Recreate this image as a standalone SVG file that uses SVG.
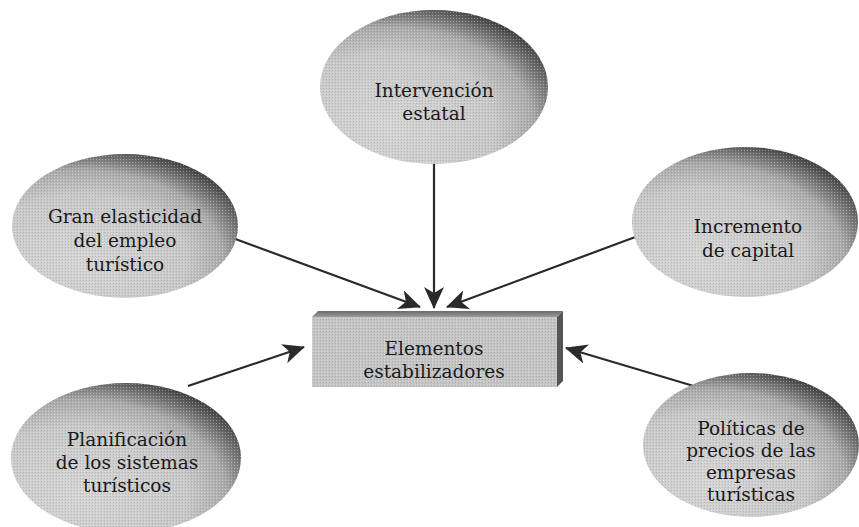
<svg xmlns="http://www.w3.org/2000/svg" width="859" height="527" viewBox="0 0 859 527">
  <style>
    .lbl { font-family: "DejaVu Serif", "Liberation Serif", serif; font-size: 18.5px; fill: #1a1a1a; text-anchor: middle; }
    .bubble { fill: url(#bubbleShade); }
    .grain { fill: url(#dots); }
    .link { stroke: #2a2a2a; stroke-width: 2.2; fill: none; marker-end: url(#head); }
  </style>
  <defs>
    <!-- light toward lower-left, dark rim along the upper-right edge -->
    <radialGradient id="bubbleShade" cx="0.3" cy="0.75" r="0.85" fx="0.3" fy="0.75">
      <stop offset="0" stop-color="#d4d4d4"/>
      <stop offset="0.55" stop-color="#c8c8c8"/>
      <stop offset="0.75" stop-color="#aaaaaa"/>
      <stop offset="0.88" stop-color="#6a6a6a"/>
      <stop offset="1" stop-color="#2e2e2e"/>
    </radialGradient>
    <linearGradient id="topFace" x1="0" y1="0" x2="0" y2="1">
      <stop offset="0" stop-color="#6a6a6a"/>
      <stop offset="1" stop-color="#9a9a9a"/>
    </linearGradient>
    <!-- halftone grain -->
    <pattern id="dots" width="3" height="3" patternUnits="userSpaceOnUse">
      <rect x="0" y="0" width="1" height="1" fill="#ffffff" opacity="0.35"/>
      <rect x="2" y="1" width="1" height="1" fill="#000000" opacity="0.12"/>
    </pattern>
    <marker id="head" viewBox="0 0 22 20" refX="21" refY="10" markerWidth="22" markerHeight="20" markerUnits="userSpaceOnUse" orient="auto">
      <path d="M0,0 L22,10 L0,20 L6,10 Z" fill="#2a2a2a"/>
    </marker>
  </defs>

  <!-- connectors -->
  <g id="connectors">
    <line class="link" x1="434" y1="160" x2="434" y2="308"/>
    <line class="link" x1="230" y1="237" x2="420" y2="307"/>
    <line class="link" x1="638" y1="236" x2="447" y2="307"/>
    <line class="link" x1="188" y1="386" x2="304" y2="347"/>
    <line class="link" x1="697" y1="387" x2="566" y2="348"/>
  </g>

  <g id="n-intervencion">
    <ellipse class="bubble" cx="434" cy="87" rx="114" ry="77"/>
    <ellipse class="grain" cx="434" cy="87" rx="114" ry="77"/>
    <text class="lbl" x="434" y="97">Intervención</text>
    <text class="lbl" x="434" y="120">estatal</text>
  </g>

  <g id="n-elasticidad">
    <ellipse class="bubble" cx="125" cy="226" rx="113" ry="72"/>
    <ellipse class="grain" cx="125" cy="226" rx="113" ry="72"/>
    <text class="lbl" x="125" y="223">Gran elasticidad</text>
    <text class="lbl" x="125" y="247">del empleo</text>
    <text class="lbl" x="125" y="271">turístico</text>
  </g>

  <g id="n-capital">
    <ellipse class="bubble" cx="745" cy="222" rx="113" ry="75"/>
    <ellipse class="grain" cx="745" cy="222" rx="113" ry="75"/>
    <text class="lbl" x="748" y="233">Incremento</text>
    <text class="lbl" x="748" y="257">de capital</text>
  </g>

  <g id="n-planificacion">
    <ellipse class="bubble" cx="126" cy="458" rx="115" ry="75"/>
    <ellipse class="grain" cx="126" cy="458" rx="115" ry="75"/>
    <text class="lbl" x="127" y="446">Planificación</text>
    <text class="lbl" x="127" y="469">de los sistemas</text>
    <text class="lbl" x="127" y="492">turísticos</text>
  </g>

  <g id="n-politicas">
    <ellipse class="bubble" cx="751" cy="445" rx="108" ry="72"/>
    <ellipse class="grain" cx="751" cy="445" rx="108" ry="72"/>
    <text class="lbl" x="751" y="435">Políticas de</text>
    <text class="lbl" x="751" y="457">precios de las</text>
    <text class="lbl" x="751" y="479">empresas</text>
    <text class="lbl" x="751" y="501">turísticas</text>
  </g>

  <!-- central block with bevelled top and dark right side -->
  <g id="n-elementos">
    <rect x="312" y="317" width="245" height="70" fill="#c4c4c4"/>
    <rect x="312" y="317" width="245" height="70" class="grain"/>
    <polygon points="312,317 318,311 563,311 557,317" fill="url(#topFace)"/>
    <polygon points="557,317 563,311 563,381 557,387" fill="#555555"/>
    <text class="lbl" x="434" y="355">Elementos</text>
    <text class="lbl" x="434" y="378">estabilizadores</text>
  </g>
</svg>
